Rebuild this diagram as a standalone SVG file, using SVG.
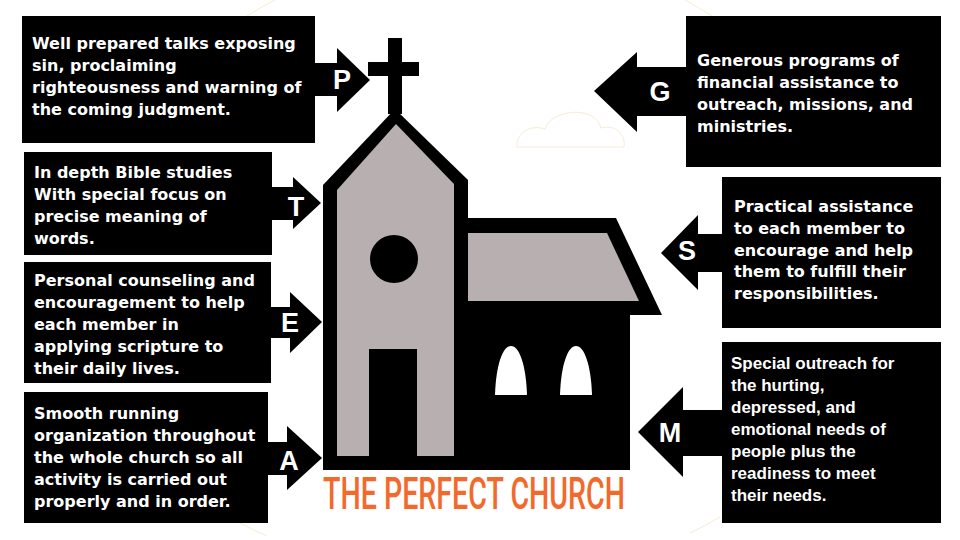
<svg xmlns="http://www.w3.org/2000/svg" width="960" height="540" viewBox="0 0 960 540">
<style>
.box{fill:#000}
.arrow{fill:#000}
.txt{font-family:"DejaVu Sans","Liberation Sans",sans-serif;font-weight:bold;font-size:16px;fill:#fff}
.txtm{font-family:"Liberation Sans",Arial,sans-serif;font-weight:bold;font-size:17px;fill:#fff}
.ltr{font-family:"Liberation Sans",Arial,sans-serif;font-weight:bold;font-size:27px;fill:#fff;text-anchor:middle}
.faint{fill:none;stroke:#f6ecd2;stroke-width:1}
.blk{fill:#000}
.gry{fill:#b8b0b0}
</style>
<rect width="960" height="540" fill="#fff"/>
<g id="background">
<path class="faint" d="M247,16 A340,340 0 0 1 275,0"/>
<path class="faint" d="M685,0 A340,340 0 0 1 712,16"/>
<path class="faint" d="M240,523 A340,340 0 0 0 267,536"/>
<path class="faint" d="M690,533 A340,340 0 0 0 720,517"/>
<path class="faint" d="M517,147 C516,133 530,124 545,129 C550,110 595,104 601,128 C616,124 626,135 624,147 Z"/>
</g>
<g id="church">
<rect class="blk" x="388" y="38" width="14" height="76"/>
<rect class="blk" x="368" y="62" width="51" height="14"/>
<path class="blk" d="M323,185 L395,109 L468,180 L468,470 L323,470 Z"/>
<path class="blk" d="M468,218 L616,218 L662,315 L630,315 L630,470 L468,470 Z"/>
<path class="gry" d="M337,190 L396,124 L454,184 L454,456 L337,456 Z"/>
<path class="gry" d="M468,233 L607,233 L639,301 L468,301 Z"/>
<rect class="blk" x="369" y="349" width="48" height="107"/>
<circle class="blk" cx="394" cy="259" r="24"/>
<path fill="#fff" d="M495,395 C496,364 503,346 511,346 C519,346 526,364 527,395 Z"/>
<path fill="#fff" d="M560,395 C561,364 568,346 576,346 C584,346 591,364 592,395 Z"/>
<text x="323" y="509" textLength="302" lengthAdjust="spacingAndGlyphs" font-family="Roboto,'Liberation Sans',sans-serif" font-weight="500" font-size="44" fill="#f26a2b">THE PERFECT CHURCH</text>
</g>
<g id="connectors">
<polygon class="arrow" points="314,63 337,63 337,48 370,80 337,112 337,96 314,96"/>
<polygon class="arrow" points="271,187 293,187 293,177 321,203 293,229 293,220 271,220"/>
<polygon class="arrow" points="270,307 290,307 290,292 322,322 290,353 290,338 270,338"/>
<polygon class="arrow" points="267,442 287,442 287,426 322,458 287,490 287,475 267,475"/>
<polygon class="arrow" points="687,67 637,67 637,52 594,91 637,132 637,116 687,116"/>
<polygon class="arrow" points="723,234 698,234 698,215 661,253 698,290 698,272 723,272"/>
<polygon class="arrow" points="723,410 683,410 683,387 638,432 683,477 683,456 723,456"/>
<text class="ltr" x="342" y="89">P</text>
<text class="ltr" x="296" y="216">T</text>
<text class="ltr" x="290" y="332">E</text>
<text class="ltr" x="289" y="470">A</text>
<text class="ltr" x="660" y="101">G</text>
<text class="ltr" x="687" y="260">S</text>
<text class="ltr" x="670" y="442">M</text>
</g>
<g id="node-p">
<rect class="box" x="22" y="16" width="293" height="127"/>
<text class="txt"><tspan x="32" y="49">Well prepared talks exposing</tspan><tspan x="32" y="71">sin, proclaiming</tspan><tspan x="32" y="93">righteousness and warning of</tspan><tspan x="32" y="115">the coming judgment.</tspan></text>
</g>
<g id="node-t">
<rect class="box" x="24" y="152" width="248" height="103"/>
<text class="txt"><tspan x="34" y="178">In depth Bible studies</tspan><tspan x="34" y="200">With special focus on</tspan><tspan x="34" y="222">precise meaning of</tspan><tspan x="34" y="244">words.</tspan></text>
</g>
<g id="node-e">
<rect class="box" x="24" y="262" width="247" height="121"/>
<text class="txt"><tspan x="34" y="286">Personal counseling and</tspan><tspan x="34" y="308">encouragement to help</tspan><tspan x="34" y="330">each member in</tspan><tspan x="34" y="352">applying scripture to</tspan><tspan x="34" y="374">their daily lives.</tspan></text>
</g>
<g id="node-a">
<rect class="box" x="24" y="392" width="244" height="131"/>
<text class="txt"><tspan x="34" y="419">Smooth running</tspan><tspan x="34" y="441">organization throughout</tspan><tspan x="34" y="463">the whole church so all</tspan><tspan x="34" y="485">activity is carried out</tspan><tspan x="34" y="507">properly and in order.</tspan></text>
</g>
<g id="node-g">
<rect class="box" x="686" y="16" width="255" height="151"/>
<text class="txt"><tspan x="697" y="66">Generous programs of</tspan><tspan x="697" y="88">financial assistance to</tspan><tspan x="697" y="110">outreach, missions, and</tspan><tspan x="697" y="132">ministries.</tspan></text>
</g>
<g id="node-s">
<rect class="box" x="722" y="177" width="219" height="151"/>
<text class="txt"><tspan x="734" y="212">Practical assistance</tspan><tspan x="734" y="234">to each member to</tspan><tspan x="734" y="256">encourage and help</tspan><tspan x="734" y="277">them to fulfill their</tspan><tspan x="734" y="299">responsibilities.</tspan></text>
</g>
<g id="node-m">
<rect class="box" x="722" y="342" width="219" height="181"/>
<text class="txtm"><tspan x="731" y="369">Special outreach for</tspan><tspan x="731" y="391">the hurting,</tspan><tspan x="731" y="413">depressed, and</tspan><tspan x="731" y="435">emotional needs of</tspan><tspan x="731" y="457">people plus the</tspan><tspan x="731" y="479">readiness to meet</tspan><tspan x="731" y="501">their needs.</tspan></text>
</g>
</svg>
